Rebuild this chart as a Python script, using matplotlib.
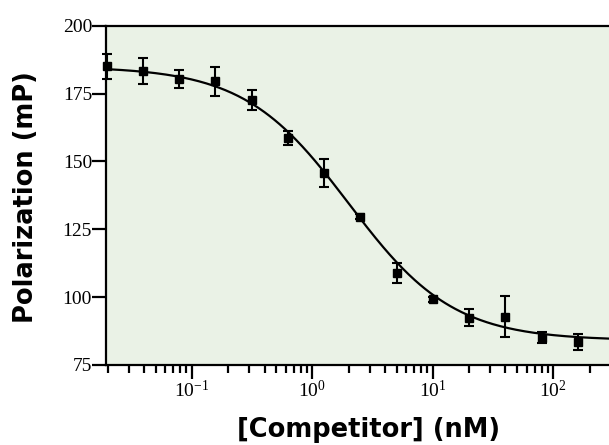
import numpy as np
import matplotlib
matplotlib.use("Agg")
import matplotlib.pyplot as plt
from matplotlib.ticker import FixedLocator, LogLocator, FuncFormatter, NullFormatter

plt.rcParams['mathtext.fontset'] = 'custom'
plt.rcParams['mathtext.rm'] = 'Liberation Serif'
plt.rcParams['mathtext.it'] = 'Liberation Serif'
plt.rcParams['axes.unicode_minus'] = False

# competitor concentration (nM), 2-fold dilution series
conc = [0.0195, 0.039, 0.078, 0.156, 0.3125, 0.625, 1.25, 2.5, 5, 10, 20, 40, 80, 160]
mp = [185.1, 183.3, 180.4, 179.6, 172.6, 158.5, 145.8, 129.6, 109.0, 99.2, 92.4, 92.8, 85.0, 83.5]
err = [4.6, 4.8, 3.4, 5.4, 3.6, 2.6, 5.2, 1.0, 3.7, 1.0, 3.2, 7.5, 2.0, 2.9]

# fitted one-site competition curve
top, bottom, ic50, hill = 185.0, 84.0, 2.0, 1.0

y_ticks = [75, 100, 125, 150, 175, 200]

fig = plt.figure(figsize=(6.09, 4.45), dpi=100)
ax = fig.add_axes([0.174, 0.180, 0.826, 0.762])
ax.set_facecolor('#eaf2e6')

xs = np.logspace(np.log10(conc[0]), np.log10(300), 400)
ys = bottom + (top - bottom) / (1 + (xs / ic50) ** hill)
ax.plot(xs, ys, color='black', lw=1.6)

ax.errorbar(conc, mp, yerr=err, fmt='s', color='black', ms=6, capsize=3.5,
            elinewidth=1.5, capthick=1.5, clip_on=False, zorder=3)

ax.set_xscale('log')
ax.set_xlim(0.0193, 290)
ax.set_ylim(75, 200)

ax.yaxis.set_major_locator(FixedLocator(y_ticks))
ax.xaxis.set_major_locator(LogLocator(base=10, numticks=10))
ax.xaxis.set_minor_locator(LogLocator(base=10, subs=np.arange(2, 10), numticks=20))
ax.xaxis.set_major_formatter(FuncFormatter(lambda v, p: r'$\mathregular{10^{%d}}$' % round(np.log10(v))))
ax.xaxis.set_minor_formatter(NullFormatter())

for s in ['left', 'bottom', 'top']:
    ax.spines[s].set_linewidth(1.6)
ax.spines['right'].set_visible(False)

ax.tick_params(axis='both', which='major', direction='out', length=10, width=1.6,
               labelsize=14, pad=1)
ax.tick_params(axis='x', which='minor', direction='out', length=6, width=1.6)
ax.tick_params(axis='y', which='major', pad=0)
for lab in ax.get_yticklabels() + ax.get_xticklabels():
    lab.set_family('Liberation Serif')

fig.text(0.606, 0.033, '[Competitor] (nM)', fontsize=18.5, fontweight='bold',
         family='DejaVu Sans', ha='center', va='center')
fig.text(0.043, 0.557, 'Polarization (mP)', fontsize=18.5, fontweight='bold',
         family='DejaVu Sans', ha='center', va='center', rotation=90)

fig.savefig('out.png', dpi=100)
